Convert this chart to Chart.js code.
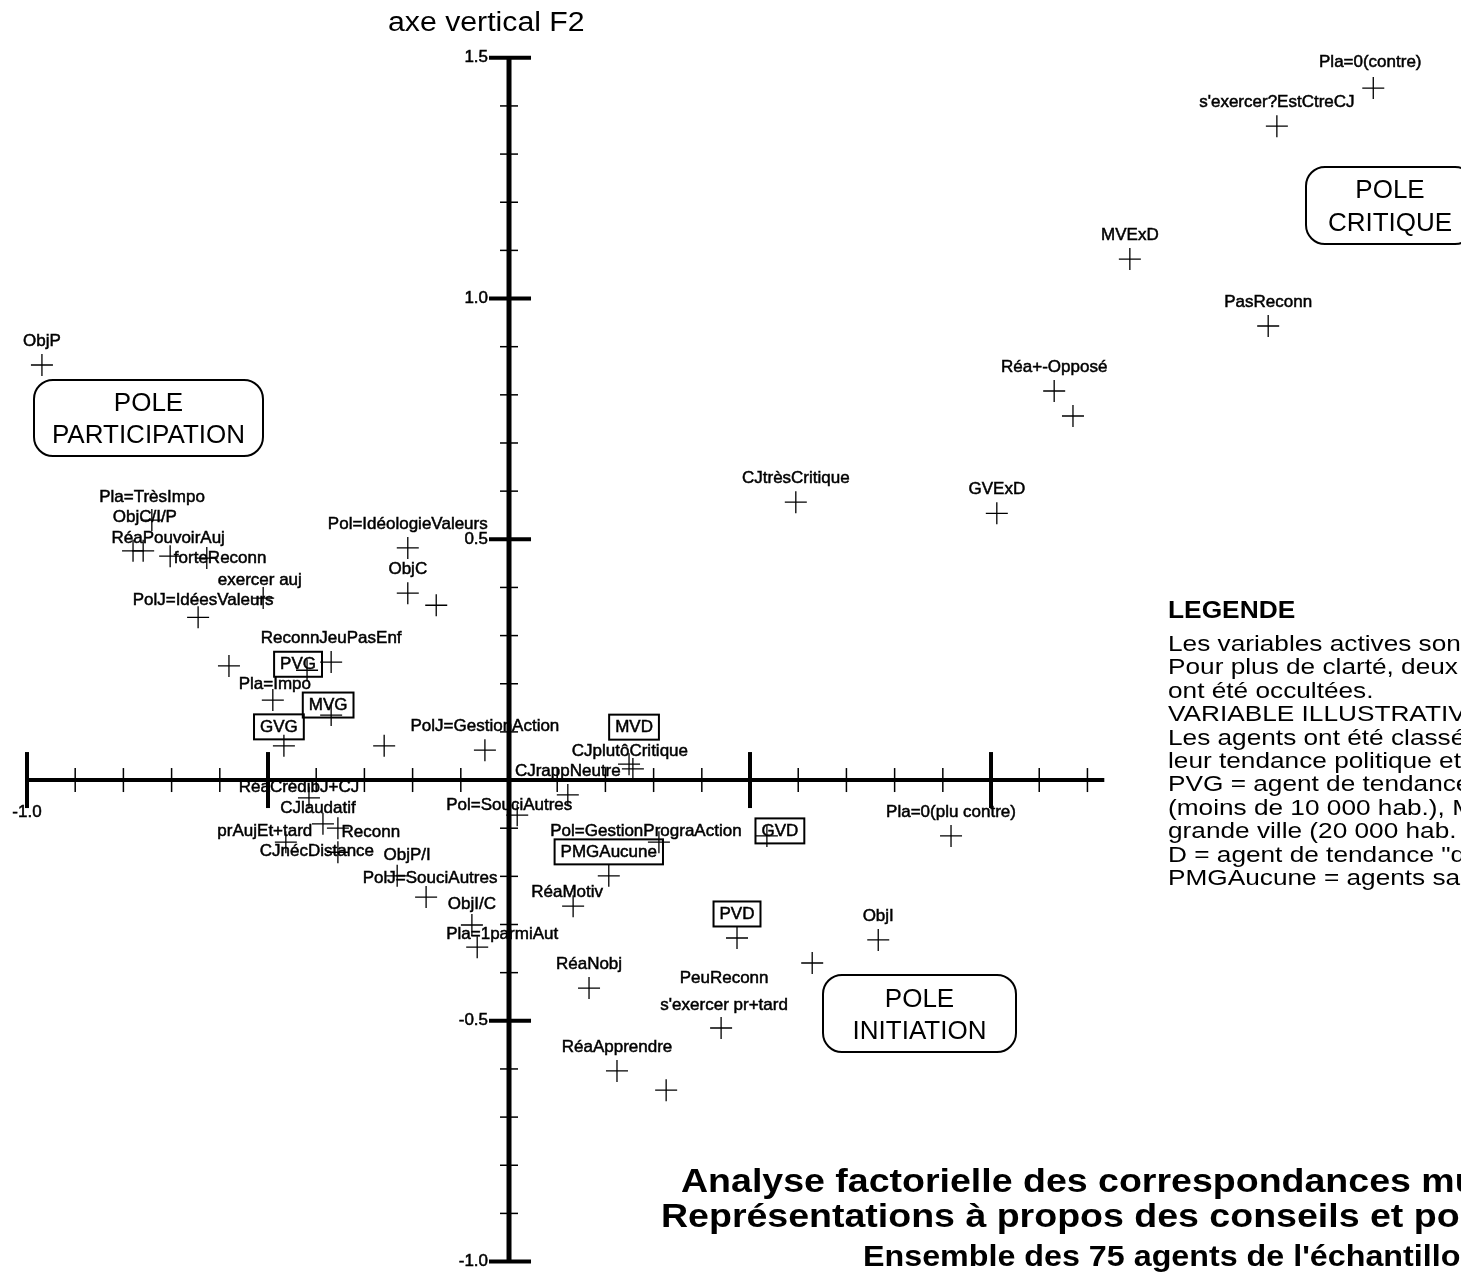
<!DOCTYPE html>
<html lang="fr">
<head>
<meta charset="utf-8">
<title>AFCM - conseils de jeunes</title>
<script src="https://cdn.jsdelivr.net/npm/chart.js@4.4.1/dist/chart.umd.min.js"></script>
<style>
  html, body { margin: 0; padding: 0; background: #fff; }
  #page { position: relative; width: 1461px; height: 1276px; overflow: hidden;
          font-family: "Liberation Sans", Arial, sans-serif; color: #000; }
  #afcm { position: absolute; left: 0; top: 0; }
  .txt { position: absolute; white-space: nowrap; line-height: 1;
         transform-origin: 0 50%; transform: translateY(-50%) scaleX(1.12); }
  .pole { position: absolute; box-sizing: border-box; border: 2px solid #000; border-radius: 20px;
          display: flex; flex-direction: column; justify-content: center; align-items: center;
          font-size: 26px; line-height: 32px; }
  .legend { position: absolute; left: 1168px; top: 632px; font-size: 22.5px; line-height: 23.4px;
            white-space: nowrap; transform-origin: 0 0; transform: scaleX(1.165); }
</style>
</head>
<body>
<div id="page">
  <canvas id="afcm" width="1461" height="1276"></canvas>

  <div class="txt" style="left:388px;top:22px;font-size:27px">axe vertical F2</div>

  <div class="pole" style="left:33px;top:379px;width:231px;height:78px"><div>POLE</div><div>PARTICIPATION</div></div>
  <div class="pole" style="left:1305px;top:166px;width:170px;height:79px;line-height:33px"><div>POLE</div><div>CRITIQUE</div></div>
  <div class="pole" style="left:822px;top:974px;width:195px;height:79px"><div>POLE</div><div>INITIATION</div></div>

  <div class="txt" style="left:1168px;top:611px;font-size:23.5px;font-weight:bold">LEGENDE</div>
  <div class="legend" id="legend"></div>

  <div class="txt" style="left:681px;top:1181px;font-size:33.5px;font-weight:bold">Analyse factorielle des correspondances multiples</div>
  <div class="txt" style="left:661px;top:1216px;font-size:33.5px;font-weight:bold">Représentations à propos des conseils et politiques de jeunesse</div>
  <div class="txt" style="left:863px;top:1256px;font-size:28.8px;font-weight:bold">Ensemble des 75 agents de l'échantillon</div>
</div>

<script>
// modalités (noms) et coordonnées sur les axes F1 / F2
const pointNames = [
  'Pla=0(contre)', "s'exercer?EstCtreCJ", 'MVExD', 'PasReconn', 'Réa+-Opposé', '', 'CJtrèsCritique', 'GVExD',
  'ObjP', 'Pla=TrèsImpo', 'RéaPouvoirAuj', 'ObjC/I/P', 'forteReconn', 'exercer auj', '', 'PolJ=IdéesValeurs',
  'Pol=IdéologieValeurs', 'ObjC', '', 'ReconnJeuPasEnf', '', 'PVG', 'Pla=Impo', 'MVG',
  'GVG', '', 'PolJ=GestionAction', 'MVD', 'CJplutôCritique', 'CJrappNeutre', 'Pol=SouciAutres', 'Pol=GestionPrograAction',
  'PMGAucune', 'GVD', 'RéaMotiv', 'PVD', '', 'ObjI', 'Pla=0(plu contre)', 'RéaCrédibJ+CJ',
  'CJlaudatif', 'Reconn', 'prAujEt+tard', 'CJnécDistance', 'ObjP/I', 'PolJ=SouciAutres', 'ObjI/C', 'Pla=1parmiAut',
  'RéaNobj', "PeuReconn\ns'exercer pr+tard", 'RéaApprendre', ''
];
const pointX = [
  1.793, 1.593, 1.288, 1.575, 1.131, 1.170, 0.595, 1.012,
  -0.969, -0.780, -0.759, -0.741, -0.703, -0.627, -0.510, -0.645,
  -0.210, -0.210, -0.151, -0.369, -0.581, -0.419, -0.490, -0.369,
  -0.467, -0.259, -0.050, 0.249, 0.257, 0.122, 0.017, 0.311,
  0.207, 0.535, 0.133, 0.473, 0.629, 0.766, 0.917, -0.415,
  -0.386, -0.355, -0.463, -0.355, -0.232, -0.172, -0.077, -0.066,
  0.166, 0.440, 0.224, 0.326
];
const pointY = [
  1.437, 1.358, 1.082, 0.943, 0.808, 0.756, 0.577, 0.554,
  0.862, 0.476, 0.476, 0.540, 0.465, 0.461, 0.378, 0.338,
  0.482, 0.388, 0.363, 0.245, 0.237, 0.228, 0.166, 0.135,
  0.071, 0.071, 0.062, 0.033, 0.023, -0.031, -0.073, -0.129,
  -0.199, -0.116, -0.262, -0.328, -0.380, -0.332, -0.116, -0.037,
  -0.091, -0.100, -0.129, -0.150, -0.199, -0.243, -0.301, -0.347,
  -0.432, -0.515, -0.604, -0.644
];
// variable illustrative (encadrée)
const illustrative = ['PVG', 'MVG', 'GVG', 'MVD', 'GVD', 'PVD', 'PMGAucune'];

const yTickValues = [1.5, 1.0, 0.5, -0.5, -1.0];
const yTickLabels = ['1.5', '1.0', '0.5', '-0.5', '-1.0'];
const xTickValues = [-1.0];
const xTickLabels = ['-1.0'];

const legendLines = [
  'Les variables actives sont en caractères normaux.',
  "Pour plus de clarté, deux modalités proches de l'origine",
  'ont été occultées.',
  'VARIABLE ILLUSTRATIVE (encadrée)',
  'Les agents ont été classés selon',
  'leur tendance politique et la taille de la ville :',
  'PVG = agent de tendance "gauche", petite ville',
  '(moins de 10 000 hab.), MVG = moyenne ville, GVG =',
  'grande ville (20 000 hab. et plus).',
  'D = agent de tendance "droite".',
  'PMGAucune = agents sans appartenance politique.'
];

// étendue des axes tracés et fenêtre visible
const AXIS_X = [-1.0, 1.235];
const AXIS_Y = [-1.0, 1.5];
const VIEW_X = [-1.056, 1.975];
const VIEW_Y = [-1.030, 1.620];

const LABEL_FONT = '17px "Liberation Sans", Arial, sans-serif';
// décalage des étiquettes (px) par rapport à leur croix ; défaut : juste au-dessus
const labelShift = {
  'Pla=0(contre)': [-3, -26],
  'Pla=TrèsImpo': [19, -54],
  'RéaPouvoirAuj': [25, -13],
  'ObjC/I/P': [-7, -3],
  'forteReconn': [50, 2],
  'exercer auj': [53, 22],
  'PolJ=IdéesValeurs': [5, -17],
  'PVG': [-9, -6],
  'Pla=Impo': [2, -16],
  'MVG': [-3, -10],
  'GVG': [-5, -19],
  'MVD': [5, -37],
  'CJplutôCritique': [-3, -18],
  'Pol=SouciAutres': [-8, -10],
  'Pol=GestionPrograAction': [-13, -11],
  'GVD': [13, -5],
  'RéaMotiv': [-6, -14],
  'RéaCrédibJ+CJ': [-10, -11],
  'CJlaudatif': [-5, -16],
  'Reconn': [33, 4],
  'prAujEt+tard': [-21, -11],
  'CJnécDistance': [-21, -1],
  'ObjP/I': [10, -21],
  'PolJ=SouciAutres': [4, -19],
  'ObjI/C': [0, -21],
  'Pla=1parmiAut': [25, -13],
  "PeuReconn\ns'exercer pr+tard": [3, -23]
};

document.getElementById('legend').innerHTML = legendLines.map(l => `<div>${l}</div>`).join('');

// texte un peu "gras" comme sur le document scanné
function inkText(ctx, s, x, y) {
  ctx.fillText(s, x, y);
  ctx.lineWidth = 0.5;
  ctx.strokeText(s, x, y);
}

const crossAxes = {
  id: 'crossAxes',
  beforeDatasetsDraw(chart) {
    const { ctx, scales: { x, y } } = chart;
    const x0 = x.getPixelForValue(0);
    const y0 = y.getPixelForValue(0);
    const seg = (ax, ay, bx, by, w) => {
      ctx.lineWidth = w;
      ctx.beginPath(); ctx.moveTo(ax, ay); ctx.lineTo(bx, by); ctx.stroke();
    };
    ctx.save();
    ctx.strokeStyle = '#000';
    seg(x.getPixelForValue(AXIS_X[0]), y0, x.getPixelForValue(AXIS_X[1]), y0, 4);
    seg(x0, y.getPixelForValue(AXIS_Y[1]), x0, y.getPixelForValue(AXIS_Y[0]), 5);

    for (let i = Math.round(AXIS_X[0] * 10); i <= Math.floor(AXIS_X[1] * 10); i++) {
      if (i === 0) continue;
      const px = x.getPixelForValue(i / 10);
      if (i % 5 === 0) seg(px, y0 - 28, px, y0 + 28, 4);
      else seg(px, y0 - 12, px, y0 + 12, 1.5);
    }
    for (let i = Math.round(AXIS_Y[0] * 10); i <= Math.round(AXIS_Y[1] * 10); i++) {
      if (i === 0) continue;
      const py = y.getPixelForValue(i / 10);
      if (i % 5 === 0) seg(x0 - 20, py, x0 + 22, py, 4);
      else seg(x0 - 9, py, x0 + 9, py, 1.5);
    }

    ctx.fillStyle = '#000';
    ctx.font = LABEL_FONT;
    ctx.textAlign = 'right';
    ctx.textBaseline = 'middle';
    yTickValues.forEach((v, i) => inkText(ctx, yTickLabels[i], x0 - 21, y.getPixelForValue(v)));
    ctx.textAlign = 'center';
    xTickValues.forEach((v, i) => inkText(ctx, xTickLabels[i], x.getPixelForValue(v), y0 + 32));
    ctx.restore();
  }
};

const pointLabels = {
  id: 'pointLabels',
  afterDatasetsDraw(chart) {
    const { ctx } = chart;
    const meta = chart.getDatasetMeta(0);
    ctx.save();
    ctx.font = LABEL_FONT;
    ctx.textAlign = 'center';
    ctx.textBaseline = 'middle';
    ctx.fillStyle = '#000';
    ctx.strokeStyle = '#000';
    meta.data.forEach((pt, i) => {
      const name = pointNames[i];
      if (!name) return;
      const [dx, dy] = labelShift[name] || [0, -24];
      const lines = name.split('\n');
      lines.forEach((line, k) => {
        const lx = pt.x + dx;
        const ly = pt.y + dy - (lines.length - 1 - k) * 27;
        inkText(ctx, line, lx, ly);
        if (illustrative.includes(line)) {
          const w = ctx.measureText(line).width + 12;
          ctx.lineWidth = 2;
          ctx.strokeRect(lx - w / 2, ly - 12.5, w, 25);
        }
      });
    });
    ctx.restore();
  }
};

new Chart(document.getElementById('afcm'), {
  type: 'scatter',
  data: {
    datasets: [{
      data: pointX.map((v, i) => ({ x: v, y: pointY[i] })),
      pointStyle: 'cross',
      radius: 11,
      hoverRadius: 11,
      borderColor: '#000',
      borderWidth: 1.3,
      clip: false,
    }],
  },
  options: {
    responsive: false,
    animation: false,
    events: [],
    layout: { padding: 0, autoPadding: false },
    plugins: { legend: { display: false }, tooltip: { enabled: false } },
    scales: {
      x: { type: 'linear', min: VIEW_X[0], max: VIEW_X[1], display: false },
      y: { type: 'linear', min: VIEW_Y[0], max: VIEW_Y[1], display: false },
    },
  },
  plugins: [crossAxes, pointLabels],
});
</script>
</body>
</html>
